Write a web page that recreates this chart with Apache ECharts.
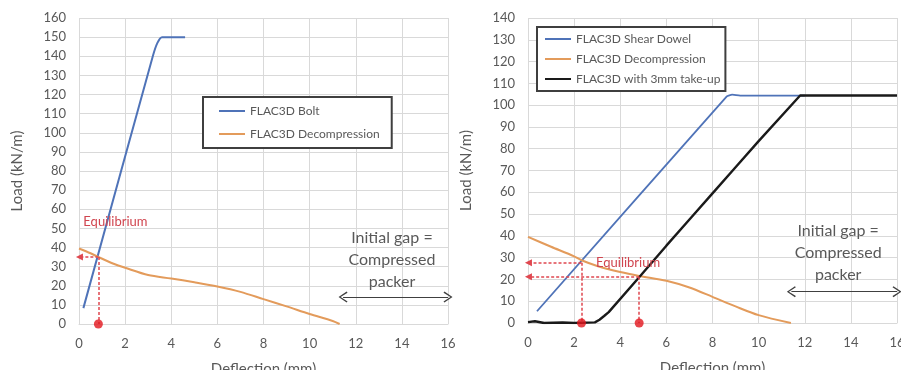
<!DOCTYPE html>
<html>
<head>
<meta charset="utf-8">
<script src="https://cdn.jsdelivr.net/npm/echarts@6/dist/echarts.min.js"></script>
<style>
html,body{margin:0;padding:0;background:#fff;}
#chart{width:901px;height:370px;}
</style>
</head>
<body>
<div id="chart"></div>
<script>
// ---- Data (deflection mm, load kN/m) ----
const boltLeft = [[0.19,8.3],[3.2,140],[3.4,147],[3.6,150],[4.6,150]];
const decompLeft = [[0,39.5],[0.5,37],[0.84,35],[1.5,31.5],[2,29.4],[3,25.6],[4,23.8],[5,21.8],[6,19.6],[7,16.8],[8,13],[9,9.2],[10,5.2],[11,1.6],[11.3,0]];
const dowelRight = [[0.39,5.4],[8.62,104],[8.85,104.8],[9.2,104.4],[12,104.4]];
const decompRight = [[0,39.5],[1,35],[2,30.6],[2.32,28.8],[3,26.2],[4,23.4],[4.82,21.6],[6,19.4],[7,16.3],[8,12],[9,7.6],[10,3.6],[11.4,0]];
const takeupRight = [[0,0.4],[0.3,0.8],[0.7,0],[1.5,0.2],[2,0],[2.9,0.3],[3.1,1.5],[3.3,3.2],[3.5,5],[4.82,21],[6,35.5],[7,47.5],[8,59.5],[9,71.5],[10,83.5],[11.8,104.4],[16,104.4]];

// equilibrium points
const eqLeft = [[0.84,35]];
const eqRight = [[2.32,27.7],[4.82,21.2]];
// annotation anchor positions (data coords)
const eqLabelLeft = [1.58,53.3];
const eqLabelRight = [4.34,27.5];
const gapLabelLeft = [13.57,33.5];
const gapLabelRight = [13.45,32.1];
const gapArrowLeft = [[11.45,14.1],[16.0,14.1]];
const gapArrowRight = [[11.42,14.4],[16.0,14.4]];

const xTicks = {min:0,max:16,interval:2};
const yLeft = {min:0,max:160,interval:10};
const yRight = {min:0,max:140,interval:10};

const FONT = 'Lato';
const GREY = '#595959';
const GRID = '#d9d9d9';
const BLUE = '#4f73b8';
const ORANGE = '#e39b5b';
const BLACK = '#1a1a1a';
const RED = '#e2151d';
const RED_D = '#e0474f';

const chevron = 'path://M5,0 L10,8.5 L9,9.5 L5,2.2 L1,9.5 L0,8.5 Z';

function xAxis(gi){
  return {type:'value',gridIndex:gi,min:xTicks.min,max:xTicks.max,interval:xTicks.interval,
    name:'Deflection (mm)',nameLocation:'middle',nameGap:38,
    nameTextStyle:{color:GREY,fontSize:15,fontFamily:FONT},
    axisLine:{show:true,lineStyle:{color:GRID,width:1}},axisTick:{show:false},
    axisLabel:{color:GREY,fontSize:13,fontFamily:FONT,margin:13},
    splitLine:{show:true,lineStyle:{color:GRID,width:1}}};
}
function yAxis(gi,r){
  return {type:'value',gridIndex:gi,min:r.min,max:r.max,interval:r.interval,
    name:'Load (kN/m)',nameLocation:'middle',nameGap:54,nameRotate:90,
    nameTextStyle:{color:GREY,fontSize:15,fontFamily:FONT},
    axisLine:{show:false},axisTick:{show:false},
    axisLabel:{color:GREY,fontSize:13,fontFamily:FONT,margin:13},
    splitLine:{show:true,lineStyle:{color:GRID,width:1}}};
}
function dataLine(name,data,color,gi,w,smooth){
  return {name:name,type:'line',xAxisIndex:gi,yAxisIndex:gi,data:data,showSymbol:false,symbol:'none',
    smooth:smooth||false,lineStyle:{color:color,width:w||2},itemStyle:{color:color},z:3,animation:false};
}
function eqAnno(gi,pts,labelPos,gapPos,arrow){
  const ml = [];
  pts.forEach(p=>{
    ml.push([{coord:[p[0],p[1]],symbol:'none'},{coord:[0.02,p[1]],symbol:'triangle',symbolSize:[7,7]}]);
    ml.push([{coord:[p[0],p[1]],symbol:'none'},{coord:[p[0],0],symbol:'none'}]);
  });
  return [{
    type:'line',xAxisIndex:gi,yAxisIndex:gi,data:[],silent:true,clip:false,animation:false,z:4,
    markLine:{silent:true,animation:false,symbol:['none','none'],label:{show:false},
      lineStyle:{color:RED_D,type:[3,2],width:1.5},data:ml},
    markPoint:{silent:true,animation:false,symbol:'circle',symbolSize:0,
      data:[
        {coord:labelPos,label:{show:true,formatter:'Equilibrium',color:'#d0454f',fontSize:13,fontFamily:FONT}},
        {coord:gapPos,label:{show:true,formatter:'Initial gap =\nCompressed\npacker',color:GREY,fontSize:16,lineHeight:22,fontFamily:FONT,align:'center'}}
      ]}
  },{
    type:'line',xAxisIndex:gi,yAxisIndex:gi,data:[],silent:true,clip:false,animation:false,z:4,
    markLine:{silent:true,animation:false,symbol:[chevron,chevron],symbolSize:[11,9],label:{show:false},
      lineStyle:{color:'#404040',type:'solid',width:1.2},
      data:[[{coord:arrow[0]},{coord:arrow[1]}]]}
  },{
    type:'scatter',xAxisIndex:gi,yAxisIndex:gi,data:pts.map(p=>[p[0],0]),symbolSize:9,
    itemStyle:{color:RED},silent:true,clip:false,animation:false,z:5
  }];
}

const chart = echarts.init(document.getElementById('chart'),null,{renderer:'canvas'});
chart.setOption({
  backgroundColor:'#fff',
  animation:false,
  grid:[
    {left:79,right:453,top:18,bottom:46,containLabel:false,outerBoundsMode:'none'},
    {left:528,right:4,top:18,bottom:47,containLabel:false,outerBoundsMode:'none'}
  ],
  xAxis:[xAxis(0),xAxis(1)],
  yAxis:[yAxis(0,yLeft),yAxis(1,yRight)],
  legend:[
    {data:['FLAC3D Bolt','FLAC3D Decompression '],left:203,top:97,orient:'vertical',
     icon:'rect',itemWidth:26,itemHeight:2,itemGap:11,padding:[8,9,8,16],
     borderColor:'#3f3f3f',borderWidth:2,backgroundColor:'#fff',selectedMode:false,
     textStyle:{color:GREY,fontSize:12,fontFamily:FONT}},
    {data:['FLAC3D Shear Dowel','FLAC3D Decompression','FLAC3D with 3mm take-up'],left:537,top:27,orient:'vertical',
     icon:'rect',itemWidth:26,itemHeight:2,itemGap:8,padding:[6,5,6,8],
     borderColor:'#3f3f3f',borderWidth:2,backgroundColor:'#fff',selectedMode:false,
     textStyle:{color:GREY,fontSize:12,fontFamily:FONT}}
  ],
  series:[
    dataLine('FLAC3D Bolt',boltLeft,BLUE,0,2,0.2),
    dataLine('FLAC3D Decompression ',decompLeft,ORANGE,0,2,0.3),
    dataLine('FLAC3D Shear Dowel',dowelRight,BLUE,1,1.8,0.15),
    dataLine('FLAC3D Decompression',decompRight,ORANGE,1,2,0.3),
    dataLine('FLAC3D with 3mm take-up',takeupRight,BLACK,1,2.4,false),
    ...eqAnno(0,eqLeft,eqLabelLeft,gapLabelLeft,gapArrowLeft),
    ...eqAnno(1,eqRight,eqLabelRight,gapLabelRight,gapArrowRight)
  ]
});
</script>
</body>
</html>
